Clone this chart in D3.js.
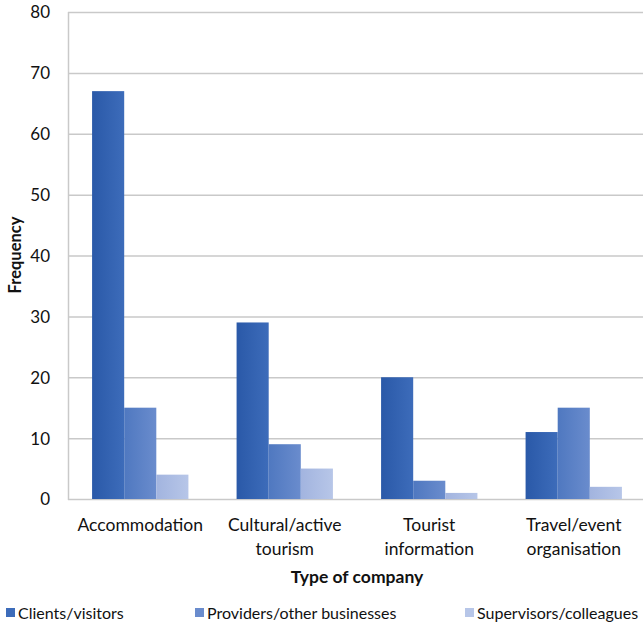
<!DOCTYPE html>
<html>
<head>
<meta charset="utf-8">
<script src="https://cdn.jsdelivr.net/npm/d3@7"></script>
<style>
  html, body { margin: 0; padding: 0; background: #fff; }
  svg { display: block; }
  text { font-family: Lato, "Open Sans", sans-serif; fill: #111; }
</style>
</head>
<body>
<svg id="chart" width="643" height="627"></svg>
<script>
// Company types on the category axis (two-line labels)
const categories = ["Accommodation", "Cultural/active tourism", "Tourist information", "Travel/event organisation"];
const categoryLines = [["Accommodation"], ["Cultural/active", "tourism"], ["Tourist", "information"], ["Travel/event", "organisation"]];

// Series
const seriesNames = ["Clients/visitors", "Providers/other businesses", "Supervisors/colleagues"];
const clientsVisitors = [67, 29, 20, 11];
const providersOther = [15, 9, 3, 15];
const supervisorsColleagues = [4, 5, 1, 2];
const seriesValues = [clientsVisitors, providersOther, supervisorsColleagues];

const yTicks = [0, 10, 20, 30, 40, 50, 60, 70, 80];

const svg = d3.select("#chart");
const plot = { left: 68, right: 646, top: 12, bottom: 499 };

// Gradient fills, slightly darker on the left edge of each bar
const fills = [
  ["#2a59a8", "#3d6cba"],
  ["#4f78c0", "#6a8ccd"],
  ["#a2b4df", "#b7c6e8"]
];
const defs = svg.append("defs");
fills.forEach((f, i) => {
  const g = defs.append("linearGradient").attr("id", "grad" + i)
    .attr("x1", "0").attr("x2", "1").attr("y1", "0").attr("y2", "0");
  g.append("stop").attr("offset", "0").attr("stop-color", f[0]);
  g.append("stop").attr("offset", "1").attr("stop-color", f[1]);
});

const x0 = d3.scaleBand().domain(categories).range([plot.left, plot.right]).paddingInner(0).paddingOuter(0);
const bw = x0.bandwidth();
const x1 = d3.scaleBand().domain(seriesNames).range([bw / 6, bw * 5 / 6]).padding(0);
const y = d3.scaleLinear().domain([0, 80]).range([plot.bottom, plot.top]);

// Horizontal gridlines
svg.append("g").selectAll("line").data(yTicks).join("line")
  .attr("x1", plot.left).attr("x2", 643)
  .attr("y1", d => y(d) + 0.5).attr("y2", d => y(d) + 0.5)
  .attr("stroke", "#c9c9c9").attr("stroke-width", 1.5);

// Y axis line
svg.append("line")
  .attr("x1", plot.left + 0.5).attr("x2", plot.left + 0.5)
  .attr("y1", plot.top).attr("y2", plot.bottom + 1)
  .attr("stroke", "#c9c9c9").attr("stroke-width", 1.5);

// Y tick labels via axis
const yAxis = d3.axisLeft(y).tickValues(yTicks).tickSize(0).tickPadding(18);
const gy = svg.append("g").attr("transform", `translate(${plot.left},0)`).call(yAxis);
gy.select(".domain").remove();
gy.selectAll("text").style("font-size", "17px").style("font-family", "Lato, sans-serif").attr("fill", "#111").attr("dy", "0.35em");

// Bars
const groups = svg.append("g").selectAll("g").data(categories).join("g")
  .attr("transform", d => `translate(${x0(d)},0)`);
groups.selectAll("rect")
  .data((c, ci) => seriesNames.map((s, si) => ({ s, si, v: seriesValues[si][ci] })))
  .join("rect")
  .attr("x", d => x1(d.s))
  .attr("width", x1.bandwidth())
  .attr("y", d => y(d.v))
  .attr("height", d => y(0) - y(d.v))
  .attr("fill", d => `url(#grad${d.si})`);

// Category labels
const catG = svg.append("g");
categories.forEach((c, i) => {
  const t = catG.append("text")
    .attr("x", x0(c) + bw / 2).attr("y", 531)
    .attr("text-anchor", "middle").style("font-size", "17.5px");
  categoryLines[i].forEach((line, li) => {
    t.append("tspan").attr("x", x0(c) + bw / 2).attr("dy", li === 0 ? 0 : 24).text(line);
  });
});

// Axis titles
svg.append("text").attr("x", 357).attr("y", 583).attr("text-anchor", "middle")
  .style("font-size", "17.5px").style("font-weight", "bold").text("Type of company");
svg.append("text").attr("transform", "translate(21,255) rotate(-90)").attr("text-anchor", "middle")
  .style("font-size", "16.5px").style("font-weight", "bold").text("Frequency");

// Legend
const legendX = [6, 195, 465];
const lg = svg.append("g").selectAll("g").data(seriesNames).join("g")
  .attr("transform", (d, i) => `translate(${legendX[i]},613)`);
lg.append("rect").attr("x", 0).attr("y", -5).attr("width", 9).attr("height", 9)
  .attr("fill", (d, i) => fills[i][1]);
lg.append("text").attr("x", 12).attr("y", 0).attr("dy", "0.35em")
  .style("font-size", "16px").text(d => d);
</script>
</body>
</html>
